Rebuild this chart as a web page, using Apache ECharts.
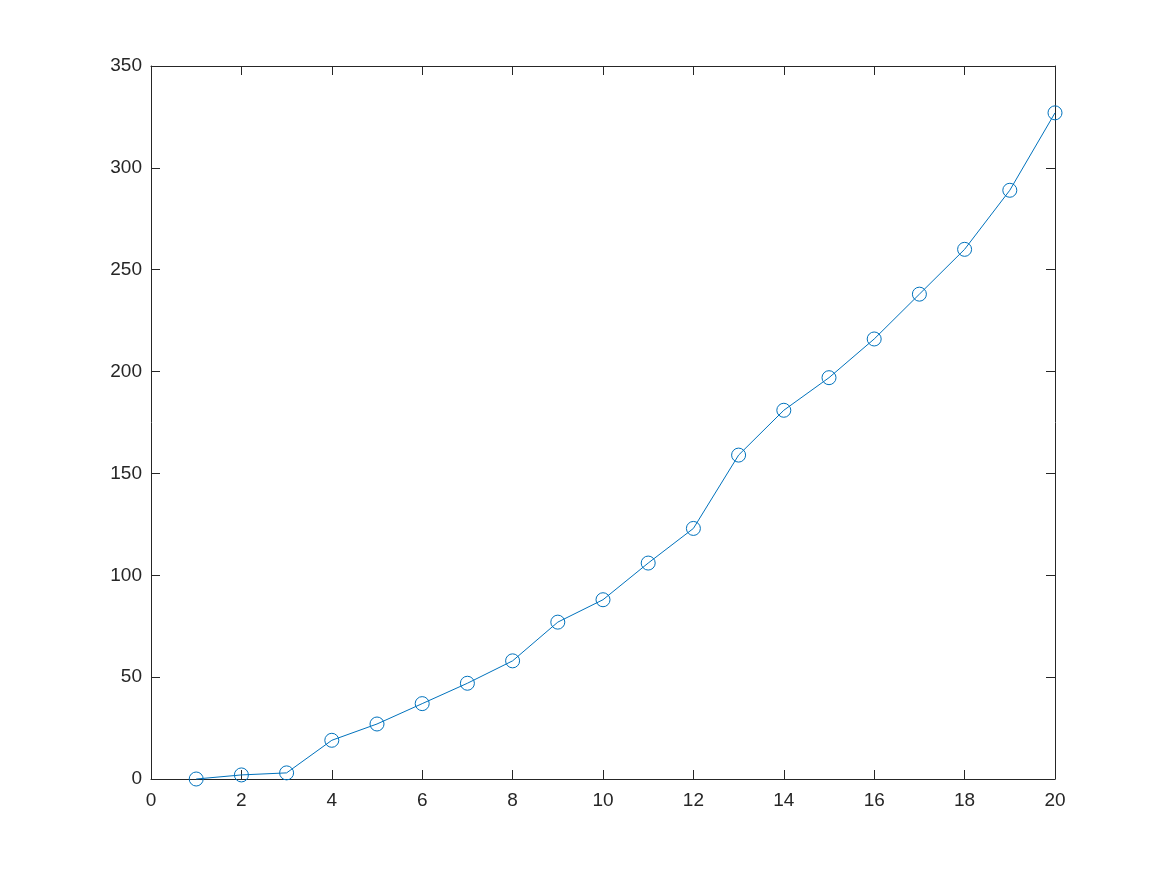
<!DOCTYPE html>
<html>
<head>
<meta charset="utf-8">
<script src="https://cdn.jsdelivr.net/npm/echarts@6/dist/echarts.min.js"></script>
<style>
  html, body { margin: 0; padding: 0; background: #fff; }
  #chart { width: 1167px; height: 875px; }
</style>
</head>
<body>
<div id="chart"></div>
<script>
// data
var xValues = [1, 2, 3, 4, 5, 6, 7, 8, 9, 10, 11, 12, 13, 14, 15, 16, 17, 18, 19, 20]
var yValues = [0, 2, 3, 19, 27, 37, 47, 58, 77, 88, 106, 123, 159, 181, 197, 216, 238, 260, 289, 327]

var points = xValues.map(function (x, i) { return [x, yValues[i]] })

var axisColor = '#262626'
var labelFont = { color: axisColor, fontSize: 19, fontFamily: 'Liberation Sans, Arial, sans-serif' }

// box axis: line + inward ticks, optionally labels
function boxAxis(pos, min, max, step, showLabels, type) {
  return {
    type: 'value',
    position: pos,
    min: min,
    max: max,
    interval: step,
    splitLine: { show: false },
    axisLine: { show: true, onZero: false, lineStyle: { color: axisColor, width: 1 } },
    axisTick: { show: true, inside: true, length: 9, lineStyle: { color: axisColor } },
    axisLabel: Object.assign({ show: showLabels, margin: type === 'x' ? 12 : 9 }, labelFont)
  }
}

var chart = echarts.init(document.getElementById('chart'))
chart.setOption({
  animation: false,
  backgroundColor: '#fff',
  grid: { left: 151, right: 112, top: 66, bottom: 96, containLabel: false },
  xAxis: [
    boxAxis('bottom', 0, 20, 2, true, 'x'),
    boxAxis('top', 0, 20, 2, false, 'x')
  ],
  yAxis: [
    boxAxis('left', 0, 350, 50, true, 'y'),
    boxAxis('right', 0, 350, 50, false, 'y')
  ],
  series: [{
    type: 'line',
    data: points,
    symbol: 'circle',
    symbolSize: 14,
    showAllSymbol: true,
    lineStyle: { color: '#0072BD', width: 1 },
    itemStyle: { color: 'rgba(0,0,0,0)', borderColor: '#0072BD', borderWidth: 1 },
    clip: false
  }]
})
</script>
</body>
</html>
